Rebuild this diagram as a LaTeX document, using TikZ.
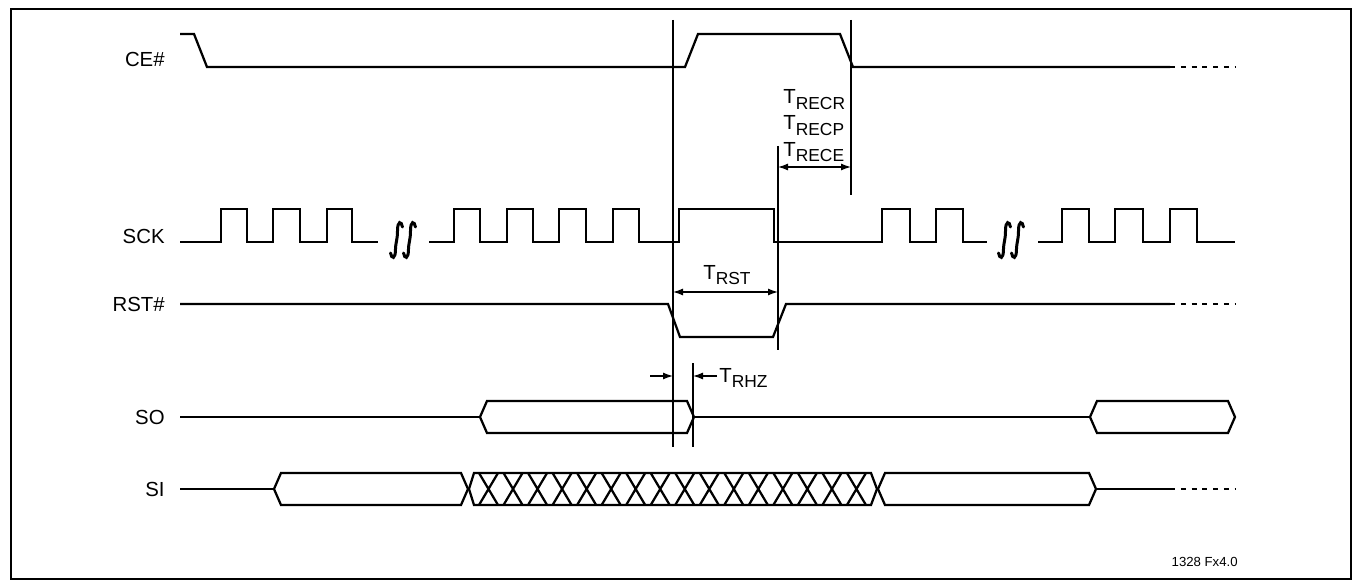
\documentclass[tikz,border=0pt]{standalone}
\usepackage{fontspec}
\setmainfont{Liberation Sans}
\usetikzlibrary{positioning,arrows.meta}

% T with a lowered, slightly smaller index
\newcommand{\tsub}[1]{T\raisebox{-3.4pt}{\fontsize{9.9}{10}\selectfont #1}}

\begin{document}
\begin{tikzpicture}[
    x=0.02cm, y=-0.02cm,
    wave/.style={line width=0.045cm, line join=miter},
    guide/.style={line width=0.026cm},
    dimarrow/.style={line width=0.026cm, {Latex[length=0.2cm,width=0.14cm]}-{Latex[length=0.2cm,width=0.14cm]}},
    onearrow/.style={line width=0.026cm, -{Latex[length=0.2cm,width=0.14cm]}},
    dashend/.style={wave, dash pattern=on 0.1cm off 0.115cm},
    breakmark/.style={line width=0.06cm, line cap=round},
    sig/.style={anchor=base east, inner sep=0pt, font=\fontsize{11.6}{14}\selectfont},
    tlabel/.style={inner sep=0pt, font=\fontsize{11.6}{14}\selectfont}
]
\useasboundingbox (0,0) rectangle (1353,581);
\draw[line width=0.05cm] (11,9) rectangle (1351,579);

% signal names
\node[sig] (ce)  at (165,67)  {CE\#};
\node[sig] (sck) at (165,243) {SCK};
\node[sig] (rst) at (165,311) {RST\#};
\node[sig] (so)  at (165,424) {SO};
\node[sig] (si)  at (165,496) {SI};

% CE#
\draw[wave] (180,34) -- (194,34) -- (207,67) -- (685,67) -- (698,34) -- (840,34) -- (853,67) -- (1170,67);
\draw[dashend] (1170,67) -- (1235,67);

% SCK
\draw[wave] (180,242) foreach \a/\b in {221/247,273/300,327/352}
    { -- (\a,242) -- (\a,209) -- (\b,209) -- (\b,242) } -- (378,242);
\draw[wave] (429,242) foreach \a/\b in {454/480,507/533,559/586,613/639,679/774,882/910,936/963}
    { -- (\a,242) -- (\a,209) -- (\b,209) -- (\b,242) } -- (987,242);
\draw[wave] (1038,242) foreach \a/\b in {1062/1089,1115/1143,1170/1197}
    { -- (\a,242) -- (\a,209) -- (\b,209) -- (\b,242) } -- (1235,242);
\foreach \c in {403,1011}
  \foreach \s in {-6.5,6.5}
    \draw[breakmark] (\c+\s+6,227) .. controls (\c+\s+5,221) and (\c+\s+1,220) .. (\c+\s+1,231)
      .. controls (\c+\s+1,240) and (\c+\s-1,243) .. (\c+\s-1,249)
      .. controls (\c+\s-1,260) and (\c+\s-5,259) .. (\c+\s-6,253);

% RST#
\draw[wave] (180,304) -- (668,304) -- (680,337) -- (773,337) -- (786,304) -- (1170,304);
\draw[dashend] (1170,304) -- (1235,304);

% SO and SI
\draw[wave] (180,417) -- (480,417) (694,417) -- (1090,417);
\draw[wave] (180,489) -- (274,489) (1096,489) -- (1170,489);
\draw[dashend] (1170,489) -- (1235,489);
\foreach \l/\r/\m in {480/694/417,1090/1235/417,274/468/489,878/1096/489}
  \draw[wave] (\l,\m) -- (\l+7,\m-16) -- (\r-7,\m-16) -- (\r,\m) -- (\r-7,\m+16) -- (\l+7,\m+16) -- cycle;
\draw[wave] (469,489) -- (474,473) -- (871,473) -- (877,489) -- (871,505) -- (474,505) -- cycle;
\foreach \k in {0,...,15} {
  \pgfmathsetmacro\c{488.5+24.53*\k}
  \draw[wave] (\c-9.5,473) -- (\c+9.5,505) (\c-9.5,505) -- (\c+9.5,473);
}

% timing guides
\coordinate (g1t) at (673,20);  \coordinate (g1b) at (673,447);
\coordinate (g2t) at (851,20);  \coordinate (g2b) at (851,195);
\coordinate (g3t) at (778,146); \coordinate (g3b) at (778,350);
\coordinate (g4t) at (693,363); \coordinate (g4b) at (693,447);
\foreach \g in {g1,g2,g3,g4}
  \draw[guide] (\g t) -- (\g b);

% T_REC
\coordinate (recL) at (778,167);
\coordinate (recR) at (851,167);
\draw[dimarrow] (recL) -- (recR);
\node[tlabel, anchor=base west] (trecr) at (783,104) {\tsub{RECR}};
\node[tlabel, anchor=base west] (trecp) at (783,130) {\tsub{RECP}};
\node[tlabel, anchor=base west] (trece) at (783,156) {\tsub{RECE}};

% T_RST
\coordinate (rstL) at (673,292);
\coordinate (rstR) at (778,292);
\draw[dimarrow] (rstL) -- (rstR);
\node[tlabel, anchor=base] (trst) at (727,279) {\tsub{RST}};

% T_RHZ
\coordinate (hzA) at (650,376);
\coordinate (hzL) at (673,376);
\coordinate (hzB) at (717,376);
\coordinate (hzR) at (693,376);
\draw[onearrow] (hzA) -- (hzL);
\draw[onearrow] (hzB) -- (hzR);
\node[tlabel, anchor=base west] (trhz) at (719,382) {\tsub{RHZ}};

\node[anchor=base east, inner sep=0pt, font=\fontsize{7.5}{9}\selectfont] (fig) at (1238,566) {1328 Fx4.0};
\end{tikzpicture}
\end{document}
